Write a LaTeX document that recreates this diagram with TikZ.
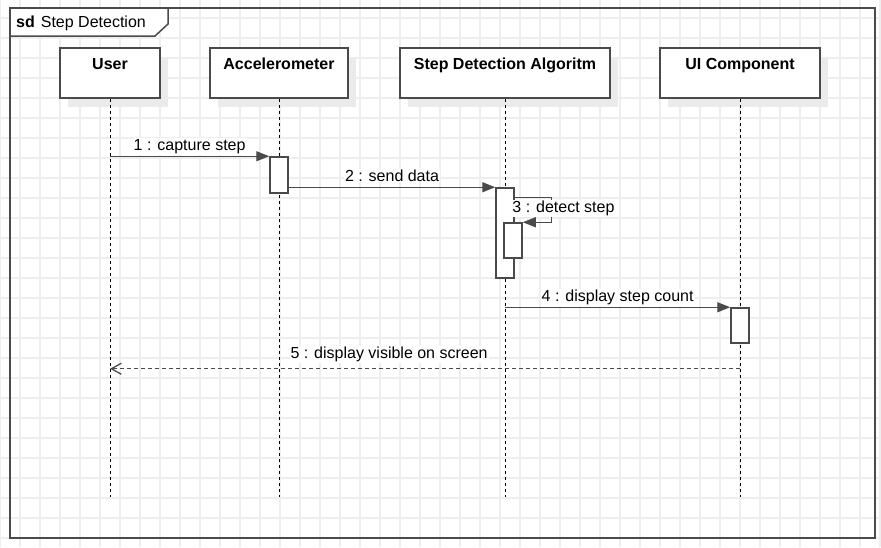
\documentclass[tikz,border=0pt]{standalone}
\usepackage{fontspec}
\setmainfont{Liberation Sans}
\usetikzlibrary{arrows.meta, shadows}
\definecolor{gridgray}{HTML}{EEEEEE}
\definecolor{shadowgray}{HTML}{EBEBEB}
\definecolor{linegray}{HTML}{4A4A4A}

\begin{document}
\begin{tikzpicture}[x=1pt, y=-1pt, font=\fontsize{16}{19}\selectfont,
  lifeline/.style={black, line width=0.9pt, dash pattern=on 3pt off 3pt},
  msg/.style={linegray, line width=1.4pt, -{Triangle[length=13pt, width=10pt]}},
  reply/.style={linegray, line width=1.3pt, dash pattern=on 4pt off 3pt, -{Straight Barb[length=10pt, width=11pt]}},
  msglabel/.style={fill=white, text=black, inner sep=1pt, anchor=base}]

\useasboundingbox (0,0) rectangle (881,547);
\fill[white] (0,0) rectangle (881,547);
\foreach \gx in {0,20,...,880} \draw[gridgray, line width=2pt] (\gx,0) -- (\gx,547);
\foreach \gy in {18,38,...,538} \draw[gridgray, line width=2pt] (0,\gy) -- (881,\gy);

\draw[linegray, line width=2pt] (10,8) rectangle (875,538);
\filldraw[fill=white, draw=linegray, line width=1.5pt] (10,8) -- (168,8) -- (168,24) -- (155,36) -- (10,36) -- cycle;
\node[anchor=base west, inner sep=0] (title) at (16,27) {\textbf{sd}\hspace{6pt}Step Detection};

\begin{scope}[every node/.style={draw=linegray, line width=1.6pt, fill=white, inner sep=0,
    text height=21pt, text depth=29pt, font=\fontsize{16}{19}\selectfont\bfseries,
    general shadow={fill=shadowgray, shadow xshift=8pt, shadow yshift=-9pt}}]
  \node[minimum width=100pt] (user) at (110,73) {User};
  \node[minimum width=138pt] (accel) at (279,73) {Accelerometer};
  \node[minimum width=210pt] (algo) at (505,73) {Step Detection Algoritm};
  \node[minimum width=160pt] (ui) at (740,73) {UI Component};
\end{scope}

\coordinate (user-end) at (110,497);
\coordinate (accel-end) at (279,497);
\coordinate (algo-end) at (505,497);
\coordinate (ui-end) at (740,497);
\foreach \h in {user, accel, algo, ui} \draw[lifeline] (\h) -- (\h-end);

\begin{scope}[every node/.style={draw=linegray, line width=1.5pt, fill=white, inner sep=0,
    minimum width=18pt, minimum height=35pt}]
  \node[minimum height=36pt] (accelact) at (279,175) {};
  \node[minimum height=90pt] (algoact) at (505,233) {};
  \node (selfact) at (513,240.5) {};
  \node (uiact) at (740,325.5) {};
\end{scope}

\draw[msg] (user |- accelact.north) -- (accelact.north west) node[msglabel, midway, yshift=6pt] {1 : capture step};
\draw[msg] (accelact.east |- algoact.north) -- (algoact.north west) node[msglabel, midway, yshift=6pt] {2 : send data};
\draw[msg] ([yshift=-10pt]algoact.north east) -- ++(37,0) |- (selfact.north east);
\node[msglabel, anchor=base west] (selflabel) at ([xshift=8pt, yshift=10pt]selfact.north west) {3 : detect step};
\draw[msg] (algo |- uiact.north) -- (uiact.north west) node[msglabel, midway, yshift=6pt] {4 : display step count};
\coordinate (replystart) at ([yshift=-25pt]uiact.south);
\draw[reply] (replystart) -- (user |- replystart) node[msglabel, pos=0.557, yshift=10pt] {5 : display visible on screen};

\end{tikzpicture}
\end{document}
